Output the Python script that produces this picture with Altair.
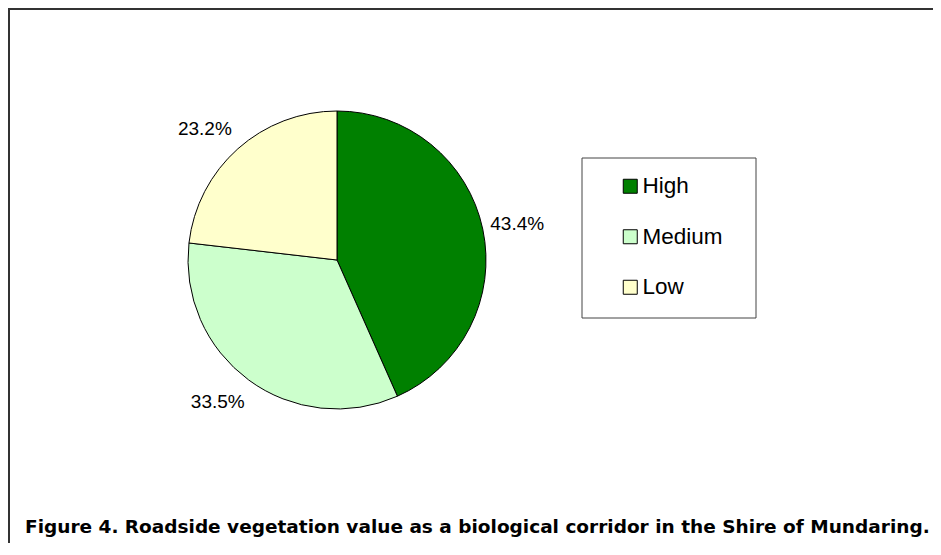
import altair as alt
import pandas as pd

categories = ["High", "Medium", "Low"]
values = [43.4, 33.5, 23.2]
labels = ["43.4%", "33.5%", "23.2%"]
colors = ["#008000", "#CCFFCC", "#FFFFCC"]
caption = "Figure 4. Roadside vegetation value as a biological corridor in the Shire of Mundaring."

df = pd.DataFrame({
    "cat": categories,
    "value": values,
    "label": labels,
    "idx": list(range(len(categories))),
})

TOTAL = sum(values)
CX, CY = 329, 252
theta_scale = alt.Scale(domain=[0, TOTAL])

base = alt.Chart(df)

pie = base.mark_arc(outerRadius=149, stroke="black", strokeWidth=1).encode(
    theta=alt.Theta("value:Q", stack=True, scale=theta_scale),
    order=alt.Order("idx:Q"),
    color=alt.Color(
        "cat:N",
        scale=alt.Scale(domain=categories, range=colors),
        sort=categories,
        legend=alt.Legend(
            title=None,
            orient="none",
            legendX=611,
            legendY=167,
            padding=0,
            symbolType="square",
            symbolSize=196,
            symbolStrokeColor="black",
            symbolStrokeWidth=1,
            labelFont="Liberation Sans",
            labelFontSize=22.5,
            labelColor="black",
            labelOffset=1,
            rowPadding=27.5,
        ),
    ),
    x=alt.value(CX),
    y=alt.value(CY),
)

text_base = (
    base.transform_stack(
        stack="value", as_=["v0", "v1"], groupby=[],
        sort=[alt.SortField("idx", order="ascending")],
    )
    .transform_joinaggregate(total="sum(value)")
    .transform_calculate(mid="(datum.v0 + datum.v1) / 2")
)

text_enc = dict(
    theta=alt.Theta("mid:Q", stack=False, scale=theta_scale),
    text="label:N",
    x=alt.value(CX),
    y=alt.value(CY),
)

text_right = text_base.transform_filter("datum.mid < datum.total / 2").mark_text(
    radius=176, dx=8, font="Liberation Sans", fontSize=19, color="black"
).encode(**text_enc)

text_left = text_base.transform_filter("datum.mid >= datum.total / 2").mark_text(
    radius=176, dx=-15, font="Liberation Sans", fontSize=19, color="black"
).encode(**text_enc)

one = alt.Chart(pd.DataFrame({"k": [0]}))

box = one.mark_rect(fill="white", stroke="#444444", strokeWidth=1).encode(
    x=alt.value(574), x2=alt.value(748), y=alt.value(150), y2=alt.value(310)
)

top_line = one.mark_rule(color="#333333", strokeWidth=2).encode(
    x=alt.value(0), x2=alt.value(925), y=alt.value(1)
)
left_line = one.mark_rule(color="#333333", strokeWidth=2).encode(
    x=alt.value(1), y=alt.value(0), y2=alt.value(535)
)

cap = one.mark_text(
    text=caption, align="left", baseline="alphabetic",
    font="DejaVu Sans", fontWeight="bold", fontSize=18.5, color="black"
).encode(x=alt.value(17), y=alt.value(525))

chart = alt.layer(box, pie, text_right, text_left, top_line, left_line, cap).properties(
    width=925, height=535, padding=0, autosize=alt.AutoSizeParams(type="none")
).configure_view(stroke=None)

chart.save("out.html", embed_options={"renderer": "svg", "actions": False})
